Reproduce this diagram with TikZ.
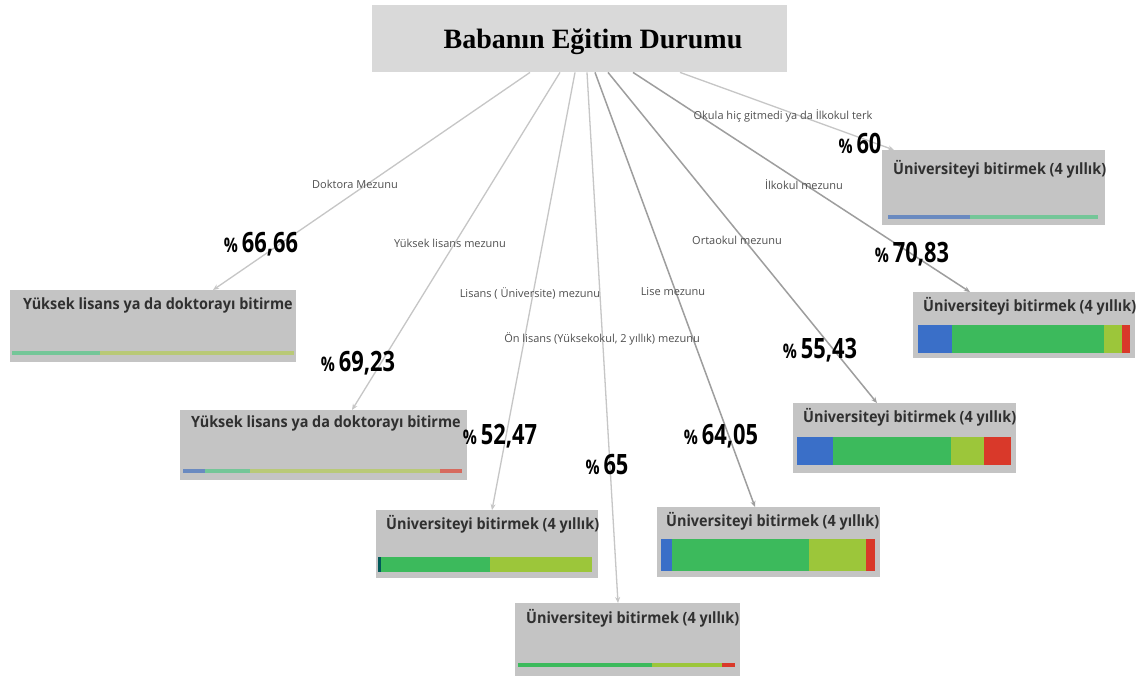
\documentclass[tikz,border=0pt]{standalone}
\usepackage{fontspec}
\usetikzlibrary{arrows.meta}
\newfontfamily\labfont{Open Sans}
\newfontfamily\ttlfont{Liberation Serif}
\definecolor{rootgray}{HTML}{D9D9D9}
\definecolor{boxgray}{HTML}{C4C4C4}
\definecolor{edgegray}{HTML}{C6C6C6}
\definecolor{edgedark}{HTML}{9E9E9E}
\definecolor{txtdark}{HTML}{303030}
\definecolor{barblue}{HTML}{3A6FC8}
\definecolor{bargreen}{HTML}{3CBA5C}
\definecolor{baryg}{HTML}{9CC63A}
\definecolor{barred}{HTML}{D9392A}
\definecolor{thinblue}{HTML}{6A8AC0}
\definecolor{thingreen}{HTML}{74C698}
\definecolor{thinyg}{HTML}{B9C977}
\definecolor{thinred}{HTML}{D66A5E}
\tikzset{
  rootbox/.style={fill=rootgray, draw=none, inner sep=0pt, anchor=north west},
  catbox/.style={fill=boxgray, draw=none, inner sep=0pt, anchor=north west},
  boxtext/.style={anchor=north west, inner sep=0pt, text=txtdark},
  edgelab/.style={inner sep=0pt, text=txtdark!85, font=\labfont\fontsize{11}{12}\selectfont},
  pctlab/.style={inner sep=0pt, text=black},
  edge/.style={draw=edgegray, line width=1.3pt, -{Stealth[length=6pt,width=5pt]}},
  edgeb/.style={draw=edgedark, line width=1.5pt, -{Stealth[length=6pt,width=5pt]}},
}
\newcommand{\pct}[1]{\scalebox{0.78}[1]{{\labfont\bfseries\fontsize{20}{20}\selectfont\%}\hspace{5pt}{\labfont\fontsize{28}{28}\selectfont\bfseries #1}}}
\newcommand{\btxt}[1]{\scalebox{0.93}[1]{\labfont\bfseries\fontsize{15.5}{16}\selectfont #1}}
\begin{document}
\begin{tikzpicture}[x=1pt,y=-1pt]
\useasboundingbox (0,0) rectangle (1145,680);
\fill[white] (0,0) rectangle (1145,680);

% root
\node[rootbox, minimum width=415pt, minimum height=67pt] (root) at (372,5) {};
\node[inner sep=0pt, font=\ttlfont\bfseries\fontsize{28}{30}\selectfont] (title) at (593,42) {Babanın Eğitim Durumu};

% boxes
\node[catbox, minimum width=286pt, minimum height=72pt] (A) at (10,290) {};
\node[catbox, minimum width=287pt, minimum height=70pt] (B) at (180,410) {};
\node[catbox, minimum width=222pt, minimum height=68pt] (C) at (376,510) {};
\node[catbox, minimum width=225pt, minimum height=73pt] (D) at (515,603) {};
\node[catbox, minimum width=223pt, minimum height=70pt] (E) at (657,507) {};
\node[catbox, minimum width=223pt, minimum height=70pt] (F) at (793,403) {};
\node[catbox, minimum width=222pt, minimum height=66pt] (G) at (913,292) {};
\node[catbox, minimum width=223pt, minimum height=75pt] (H) at (882,150) {};

% edges
\draw[edge]  ([xshift=158pt]root.south west) -- ([xshift=203pt]A.north west);
\draw[edge]  ([xshift=188pt]root.south west) -- ([xshift=172pt]B.north west);
\draw[edge]  ([xshift=203pt]root.south west) -- ([xshift=116pt]C.north west);
\draw[edge]  ([xshift=215pt]root.south west) -- ([xshift=103pt]D.north west);
\draw[edgeb] ([xshift=223pt]root.south west) -- ([xshift=98pt]E.north west);
\draw[edgeb] ([xshift=236pt]root.south west) -- ([xshift=84pt]F.north west);
\draw[edgeb] ([xshift=261pt]root.south west) -- ([xshift=57pt]G.north west);
\draw[edge]  ([xshift=308pt]root.south west) -- ([xshift=12pt]H.north west);

% box texts
\node[boxtext] (tA) at (23,298) {\btxt{Yüksek lisans ya da doktorayı bitirme}};
\node[boxtext] (tB) at (191,416) {\btxt{Yüksek lisans ya da doktorayı bitirme}};
\node[boxtext] (tC) at (386,515) {\btxt{Üniversiteyi bitirmek (4 yıllık)}};
\node[boxtext] (tD) at (526,609) {\btxt{Üniversiteyi bitirmek (4 yıllık)}};
\node[boxtext] (tE) at (666,512) {\btxt{Üniversiteyi bitirmek (4 yıllık)}};
\node[boxtext] (tF) at (803,408) {\btxt{Üniversiteyi bitirmek (4 yıllık)}};
\node[boxtext] (tG) at (923,297) {\btxt{Üniversiteyi bitirmek (4 yıllık)}};
\node[boxtext] (tH) at (893,160) {\btxt{Üniversiteyi bitirmek (4 yıllık)}};

% bars A (thin)
\fill[thingreen] (12,351) rectangle (100,355);
\fill[thinyg] (100,351) rectangle (294,355);
% bars B (thin)
\fill[thinblue] (183,469) rectangle (205,473);
\fill[thingreen] (205,469) rectangle (250,473);
\fill[thinyg] (250,469) rectangle (440,473);
\fill[thinred] (440,469) rectangle (462,473);
% bars C
\fill[teal!70!black] (378,557) rectangle (381,572);
\fill[bargreen] (381,557) rectangle (490,572);
\fill[baryg] (490,557) rectangle (592,572);
% bars D (thin)
\fill[bargreen] (518,663) rectangle (652,667);
\fill[baryg] (652,663) rectangle (722,667);
\fill[barred] (722,663) rectangle (735,667);
% bars E
\fill[barblue] (661,539) rectangle (672,571);
\fill[bargreen] (672,539) rectangle (809,571);
\fill[baryg] (809,539) rectangle (866,571);
\fill[barred] (866,539) rectangle (875,571);
% bars F
\fill[barblue] (797,437) rectangle (833,465);
\fill[bargreen] (833,437) rectangle (951,465);
\fill[baryg] (951,437) rectangle (984,465);
\fill[barred] (984,437) rectangle (1011,465);
% bars G
\fill[barblue] (918,325) rectangle (952,353);
\fill[bargreen] (952,325) rectangle (1104,353);
\fill[baryg] (1104,325) rectangle (1122,353);
\fill[barred] (1122,325) rectangle (1130,353);
% bars H (thin)
\fill[thinblue] (888,215) rectangle (970,219);
\fill[thingreen] (970,215) rectangle (1098,219);

% edge labels
\node[edgelab] (lA) at (355,184) {Doktora Mezunu};
\node[edgelab] (lB) at (450,243) {Yüksek lisans mezunu};
\node[edgelab] (lC) at (530,293) {Lisans ( Üniversite) mezunu};
\node[edgelab] (lD) at (602,339) {Ön lisans (Yüksekokul, 2 yıllık) mezunu};
\node[edgelab] (lE) at (673,292) {Lise mezunu};
\node[edgelab] (lF) at (737,240) {Ortaokul mezunu};
\node[edgelab] (lG) at (804,185) {İlkokul mezunu};
\node[edgelab] (lH) at (783,116) {Okula hiç gitmedi ya da İlkokul terk};

% percentages
\node[pctlab] (pA) at (261,244) {\pct{66,66}};
\node[pctlab] (pB) at (358,363) {\pct{69,23}};
\node[pctlab] (pC) at (500,436) {\pct{52,47}};
\node[pctlab] (pD) at (607,465) {\pct{65}};
\node[pctlab] (pE) at (721,436) {\pct{64,05}};
\node[pctlab] (pF) at (820,350) {\pct{55,43}};
\node[pctlab] (pG) at (912,254) {\pct{70,83}};
\node[pctlab] (pH) at (860,143) {\pct{60}};
\end{tikzpicture}
\end{document}
